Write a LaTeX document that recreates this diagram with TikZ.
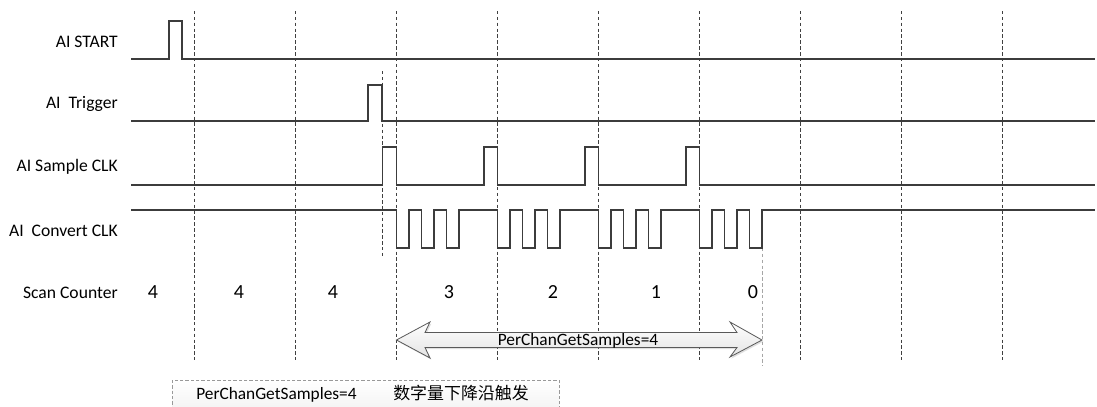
\documentclass[tikz,border=0pt]{standalone}
\usepackage{fontspec}
\setmainfont{Carlito}
\newfontfamily\cjk{Noto Sans CJK SC}
\usetikzlibrary{shadows}
\definecolor{sig}{HTML}{3C3C3C}
\definecolor{grid}{HTML}{404040}
\tikzset{
  signal/.style={draw=sig, line width=1.1pt, line join=miter},
  gridline/.style={draw=grid, line width=0.55pt, dash pattern=on 2.6pt off 1.8pt},
  lightgrid/.style={draw=gray!70, line width=0.55pt, dash pattern=on 2.6pt off 1.8pt},
  siglabel/.style={anchor=east, font=\fontsize{13.2}{15}\selectfont, inner sep=0pt},
  countnum/.style={font=\fontsize{15}{17}\selectfont, inner sep=0pt},
  boxtext/.style={font=\fontsize{13}{15}\selectfont, inner sep=0pt},
}
\begin{document}
\begin{tikzpicture}[x=0.75pt,y=-0.75pt]
\clip (0,0) rectangle (1097,407);
\fill[white] (0,0) rectangle (1097,407);

% grid lines
\foreach \k in {0,...,8} {
  \draw[gridline] ({194.3+101*\k},11) -- ({194.3+101*\k},360);
}
\draw[gridline] (382,71) -- (382,257);
\draw[lightgrid] (762,248) -- (762,366);

% labels
\node[siglabel] (lstart) at (118,42) {AI START};
\node[siglabel] (ltrig) at (118,104) {AI\ \ Trigger};
\node[siglabel] (lsamp) at (118,167) {AI Sample CLK};
\node[siglabel] (lconv) at (118,231) {AI\ \ Convert CLK};
\node[siglabel] (lscan) at (118,293) {Scan Counter};

% AI START
\draw[signal] (131,59) -- (169,59) -- (169,21) -- (182,21) -- (182,59) -- (1095,59);
% AI Trigger
\draw[signal] (131,121) -- (368,121) -- (368,85) -- (382,85) -- (382,121) -- (1095,121);
% AI Sample CLK
\draw[signal] (131,185) -- (382.5,185) -- (382.5,147) -- (396.7,147) -- (396.7,185)
  -- (484,185) -- (484,147) -- (497.3,147) -- (497.3,185)
  -- (585,185) -- (585,147) -- (598.3,147) -- (598.3,185)
  -- (686,185) -- (686,147) -- (699.3,147) -- (699.3,185) -- (1095,185);
% AI Convert CLK
\draw[signal] (131,210)
  \foreach \s in {396.7,497.3,598.3,699.3} {
    -- (\s,210) -- (\s,248) -- ({\s+12.5},248) -- ({\s+12.5},210)
    -- ({\s+25},210) -- ({\s+25},248) -- ({\s+37.5},248) -- ({\s+37.5},210)
    -- ({\s+50},210) -- ({\s+50},248) -- ({\s+62.5},248) -- ({\s+62.5},210)
  } -- (1095,210);

% Scan counter values
\node[countnum] (c1) at (153,292) {4};
\node[countnum] (c2) at (239,292) {4};
\node[countnum] (c3) at (333,292) {4};
\node[countnum] (c4) at (449,292) {3};
\node[countnum] (c5) at (553,292) {2};
\node[countnum] (c6) at (656,292) {1};
\node[countnum] (c7) at (753,292) {0};

% double arrow
\draw[draw=sig!85, line width=0.6pt, top color=white, bottom color=gray!22,
      drop shadow={opacity=0.25, shadow xshift=1pt, shadow yshift=-1.2pt}]
  (396.5,340) -- (430,322) -- (425,332.5) -- (737,332.5) -- (730,322) -- (762,340)
  -- (730,357) -- (737,347.5) -- (425,347.5) -- (430,358) -- cycle;
\node[boxtext, anchor=base] (alabel) at (578,345) {PerChanGetSamples=4};

% bottom box
\draw[draw=gray!80, line width=0.55pt, dash pattern=on 2.4pt off 1.6pt,
      top color=white, bottom color=gray!12] (172,380) rectangle (559,420);
\node[boxtext, anchor=base west] (b1) at (196,399) {PerChanGetSamples=4};
\node[boxtext, anchor=base west] (b2) at (393,399) {\cjk\fontsize{12.7}{15}\selectfont 数字量下降沿触发};
\end{tikzpicture}
\end{document}
